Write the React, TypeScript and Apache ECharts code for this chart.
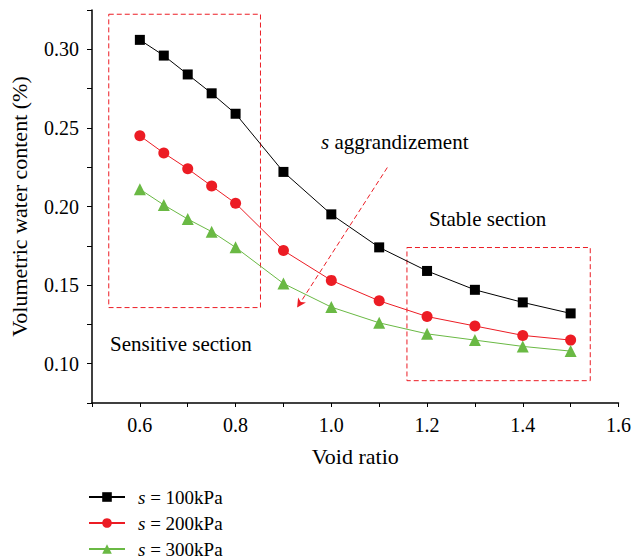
import React, { useEffect, useRef } from "react";
import * as echarts from "echarts";

const voidRatio = [0.6, 0.65, 0.7, 0.75, 0.8, 0.9, 1.0, 1.1, 1.2, 1.3, 1.4, 1.5];
const s100 = [0.306, 0.296, 0.284, 0.272, 0.259, 0.222, 0.195, 0.174, 0.159, 0.147, 0.139, 0.132];
const s200 = [0.245, 0.234, 0.224, 0.213, 0.202, 0.172, 0.153, 0.14, 0.13, 0.124, 0.118, 0.115];
const s300 = [0.211, 0.201, 0.192, 0.184, 0.174, 0.151, 0.136, 0.126, 0.119, 0.115, 0.111, 0.108];
const seriesNames = ["s = 100kPa", "s = 200kPa", "s = 300kPa"];

const xLabels = [0.6, 0.8, 1.0, 1.2, 1.4, 1.6];
const xTicks = [0.5, 0.6, 0.7, 0.8, 0.9, 1.0, 1.1, 1.2, 1.3, 1.4, 1.5, 1.6];
const yLabels = [0.1, 0.15, 0.2, 0.25, 0.3];
const yTicks = [0.075, 0.1, 0.125, 0.15, 0.175, 0.2, 0.225, 0.25, 0.275, 0.3, 0.325];

// annotation regions (data coordinates)
const sensitiveBox = [[0.535, 0.3223], [0.852, 0.1357]];
const stableBox = [[1.158, 0.1739], [1.541, 0.0892]];
const arrowLine = [[1.117, 0.2248], [0.9286, 0.1357]];

const RED = "#ec1c24";
const GREEN = "#6ab944";
const FONT = "Liberation Serif";
const TICK_FS = 20;
const NAME_FS = 22;
const NOTE_FS = 21;
const LEG_FS = 19;

export default function App() {
  const ref = useRef<HTMLDivElement>(null);
  useEffect(() => {
    if (!ref.current) return;
    const chart = echarts.init(ref.current, null, { renderer: "svg" });
    const pairs = (ys: number[]) => voidRatio.map((x, i) => [x, ys[i]]);
    const dash = [5, 3];
    const boxStyle = {
      color: "transparent",
      borderColor: RED,
      borderWidth: 1,
      borderType: dash,
    };
    const noteFont = `${NOTE_FS}px "${FONT}"`;
    chart.setOption({
      animation: false,
      textStyle: { fontFamily: FONT },
      grid: { left: 90, right: 13, top: 10, bottom: 157, containLabel: false },
      xAxis: {
        type: "value",
        min: 0.5,
        max: 1.6,
        name: "Void ratio",
        nameLocation: "middle",
        nameGap: 42,
        nameTextStyle: { fontFamily: FONT, fontSize: NAME_FS, color: "#000" },
        splitLine: { show: false },
        axisLine: { show: true, lineStyle: { color: "#000", width: 1.5 } },
        axisTick: { show: true, length: 4, customValues: xTicks, lineStyle: { color: "#000", width: 1 } },
        axisLabel: {
          customValues: xLabels,
          formatter: (v: number) => v.toFixed(1),
          fontFamily: FONT,
          fontSize: TICK_FS,
          color: "#000",
          margin: 12,
        },
      },
      yAxis: {
        type: "value",
        min: 0.075,
        max: 0.325,
        name: "Volumetric water content (%)",
        nameLocation: "middle",
        nameGap: 62,
        nameTextStyle: { fontFamily: FONT, fontSize: NAME_FS, color: "#000" },
        splitLine: { show: false },
        axisLine: { show: true, lineStyle: { color: "#000", width: 1.5 } },
        axisTick: { show: true, length: 5, customValues: yTicks, lineStyle: { color: "#000", width: 1 } },
        axisLabel: {
          customValues: yLabels,
          formatter: (v: number) => v.toFixed(2),
          fontFamily: FONT,
          fontSize: TICK_FS,
          color: "#000",
          margin: 13,
        },
      },
      legend: {
        orient: "vertical",
        left: 88,
        top: 487,
        height: 90,
        padding: 0,
        itemWidth: 36,
        itemHeight: 12,
        itemGap: 6,
        data: seriesNames,
        formatter: (n: string) => "{i|s}" + n.slice(1),
        textStyle: {
          fontFamily: FONT,
          fontSize: LEG_FS,
          lineHeight: 20,
          color: "#000",
          padding: [0, 0, 0, 8],
          rich: {
            i: { fontStyle: "italic", fontFamily: FONT, fontSize: LEG_FS, lineHeight: 20, color: "#000" },
          },
        },
      },
      graphic: [
        {
          type: "text",
          x: 321,
          y: 142,
          style: {
            text: "{i|s} aggrandizement",
            font: noteFont,
            fill: "#000",
            verticalAlign: "middle",
            rich: { i: { fontStyle: "italic", fontFamily: FONT, fontSize: NOTE_FS, fill: "#000" } },
          },
        },
        {
          type: "text",
          x: 429,
          y: 219,
          style: { text: "Stable section", font: noteFont, fill: "#000", verticalAlign: "middle" },
        },
        {
          type: "text",
          x: 110,
          y: 344,
          style: { text: "Sensitive section", font: noteFont, fill: "#000", verticalAlign: "middle" },
        },
      ],
      series: [
        {
          name: seriesNames[0],
          type: "line",
          data: pairs(s100),
          symbol: "rect",
          symbolSize: 10,
          itemStyle: { color: "#000" },
          lineStyle: { color: "#000", width: 1 },
          markArea: {
            silent: true,
            label: { show: false },
            itemStyle: boxStyle,
            data: [
              [{ coord: sensitiveBox[0] }, { coord: sensitiveBox[1] }],
              [{ coord: stableBox[0] }, { coord: stableBox[1] }],
            ],
          },
          markLine: {
            silent: true,
            symbol: ["none", "arrow"],
            symbolSize: [7, 9],
            label: { show: false },
            lineStyle: { color: RED, width: 1, type: dash },
            data: [[{ coord: arrowLine[0] }, { coord: arrowLine[1] }]],
          },
        },
        {
          name: seriesNames[1],
          type: "line",
          data: pairs(s200),
          symbol: "circle",
          symbolSize: 11,
          itemStyle: { color: RED },
          lineStyle: { color: RED, width: 1 },
        },
        {
          name: seriesNames[2],
          type: "line",
          data: pairs(s300),
          symbol: "triangle",
          symbolSize: 12,
          itemStyle: { color: GREEN },
          lineStyle: { color: GREEN, width: 1 },
        },
      ],
    });
    return () => chart.dispose();
  }, []);
  return (
    <div
      ref={ref}
      style={{ position: "fixed", left: 0, top: 0, width: 634, height: 560, background: "#fff" }}
    />
  );
}
